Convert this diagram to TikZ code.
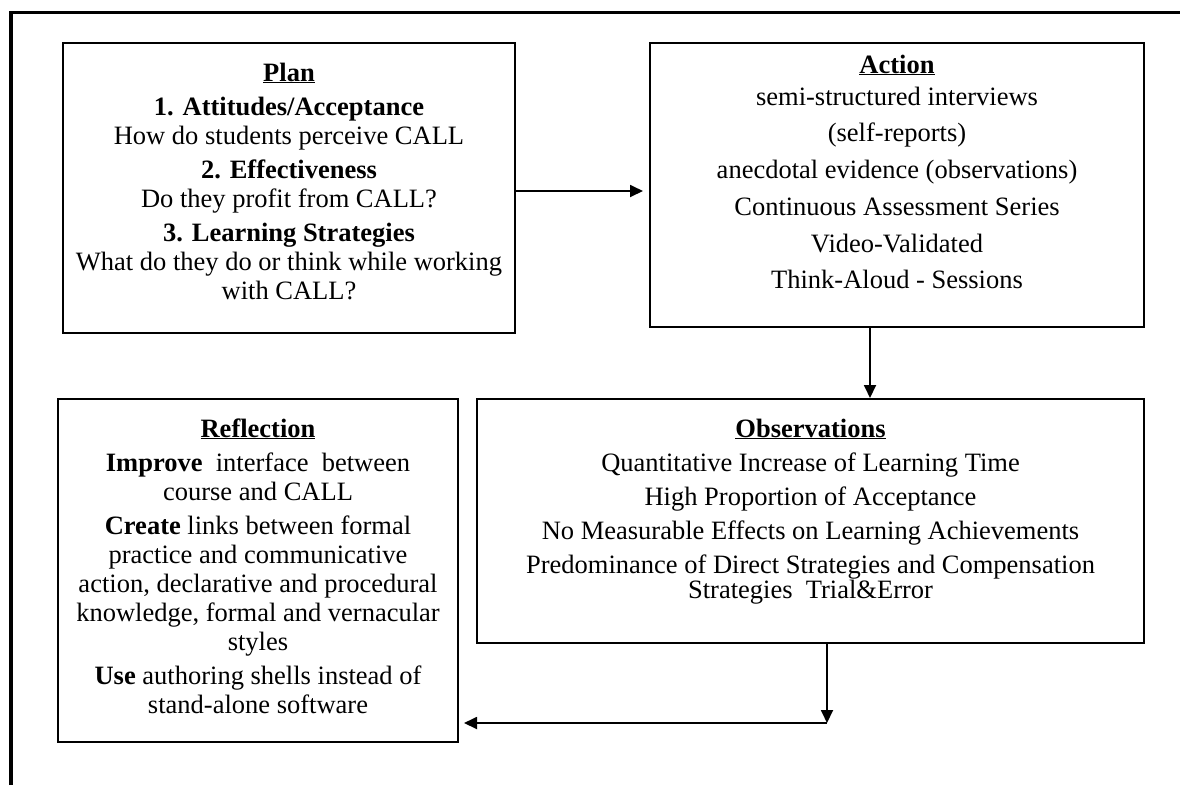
\documentclass[tikz,border=0pt]{standalone}
\usepackage{fontspec}
\setmainfont{Liberation Serif}
\usetikzlibrary{arrows.meta}
\tikzset{
  box/.style={draw, line width=2pt, inner sep=0pt},
  txt/.style={anchor=base, inner sep=0pt, font=\fontsize{26.5}{29}\selectfont},
  hd/.style={txt, font=\fontsize{26.5}{29}\selectfont\bfseries},
  arr/.style={-{Triangle[length=13pt,width=12pt]}, line width=1.8pt},
  frameline/.style={line width=3.2pt}
}
\begin{document}
\begin{tikzpicture}[x=1pt,y=-1pt]
\useasboundingbox (0,0) rectangle (1180,785);
\draw[frameline] (11,785) -- (11,12.5) -- (1180,12.5);
% boxes
\node[box, minimum width=452pt, minimum height=290pt] (plan) at (289,188) {};
\node[box, minimum width=494pt, minimum height=284pt] (action) at (897,185) {};
\node[box, minimum width=667pt, minimum height=244pt] (obs) at (810.5,521) {};
\node[box, minimum width=400pt, minimum height=343pt] (refl) at (258,570.5) {};
% Plan text
\node[hd] (p1) at (289,81) {\underline{Plan}};
\node[hd] (p2) at (289,115) {1. Attitudes/Acceptance};
\node[txt] (p3) at (289,144) {How do students perceive CALL};
\node[hd] (p4) at (289,178) {2. Effectiveness};
\node[txt] (p5) at (289,207) {Do they profit from CALL?};
\node[hd] (p6) at (289,241) {3. Learning Strategies};
\node[txt] (p7) at (289,270) {What do they do or think while working};
\node[txt] (p8) at (289,299) {with CALL?};
% Action text
\node[hd] (a1) at (897,73) {\underline{Action}};
\node[txt] (a2) at (897,105) {semi-structured interviews};
\node[txt] (a3) at (897,141) {(self-reports)};
\node[txt] (a4) at (897,178) {anecdotal evidence (observations)};
\node[txt] (a5) at (897,215) {Continuous Assessment Series};
\node[txt] (a6) at (897,252) {Video-Validated};
\node[txt] (a7) at (897,288) {Think-Aloud - Sessions};
% Observations text
\node[hd] (o1) at (810.5,437) {\underline{Observations}};
\node[txt] (o2) at (810.5,471) {Quantitative Increase of Learning Time};
\node[txt] (o3) at (810.5,505) {High Proportion of Acceptance};
\node[txt] (o4) at (810.5,539) {No Measurable Effects on Learning Achievements};
\node[txt] (o5) at (810.5,573) {Predominance of Direct Strategies and Compensation};
\node[txt] (o6) at (810.5,598) {Strategies\ \ Trial\&Error};
% Reflection text
\node[hd] (r1) at (258,437) {\underline{Reflection}};
\node[txt] (r2) at (258,471) {\textbf{Improve}\ \ interface\ \ between};
\node[txt] (r3) at (258,500) {course and CALL};
\node[txt] (r4) at (258,534) {\textbf{Create} links between formal};
\node[txt] (r5) at (258,563) {practice and communicative};
\node[txt] (r6) at (258,592) {action, declarative and procedural};
\node[txt] (r7) at (258,621) {knowledge, formal and vernacular};
\node[txt] (r8) at (258,650) {styles};
\node[txt] (r9) at (258,684) {\textbf{Use} authoring shells instead of};
\node[txt] (r10) at (258,713) {stand-alone software};
% connectors
\draw[arr, shorten >=6pt] ([yshift=-3pt]plan.east) -- ([yshift=-3pt]plan.east -| action.west);
\draw[arr] ([xshift=-27pt]action.south) -- ([xshift=-27pt]action.south |- obs.north);
\coordinate (turn) at (827,723);
\draw[arr] ([xshift=16.5pt]obs.south) -- (turn);
\draw[arr, shorten >=5pt] (turn) -- (turn -| refl.east);
\end{tikzpicture}
\end{document}
